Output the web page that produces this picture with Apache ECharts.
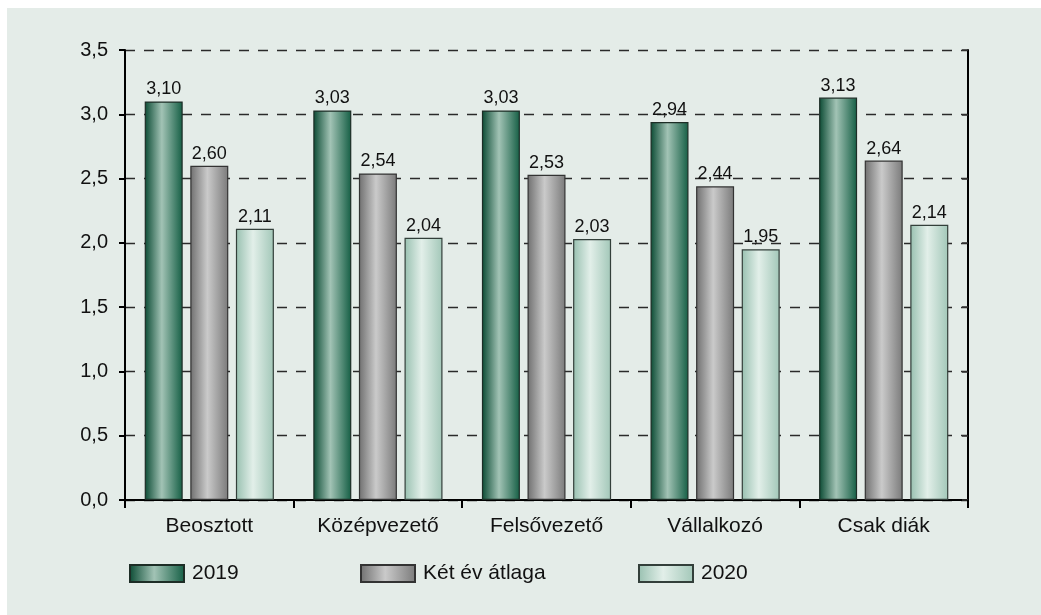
<!DOCTYPE html>
<html>
<head>
<meta charset="utf-8">
<script src="https://cdn.jsdelivr.net/npm/echarts@6/dist/echarts.min.js"></script>
<style>
  html, body { margin: 0; padding: 0; background: #fff; }
  .wrap { position: relative; width: 1041px; height: 615px; }
  .bg { position: absolute; left: 7px; top: 8px; right: 0; bottom: 0; background: #e4ece8; }
  #chart { position: absolute; left: 0; top: 0; width: 1041px; height: 615px; }
</style>
</head>
<body>
<div class="wrap">
  <div class="bg"></div>
  <div id="chart"></div>
</div>
<script>
const categories = ["Beosztott", "Középvezető", "Felsővezető", "Vállalkozó", "Csak diák"];
const seriesNames = ["2019", "Két év átlaga", "2020"];
const values2019 = [3.10, 3.03, 3.03, 2.94, 3.13];
const valuesAvg = [2.60, 2.54, 2.53, 2.44, 2.64];
const values2020 = [2.11, 2.04, 2.03, 1.95, 2.14];

const font = "Liberation Sans, Arial, sans-serif";

function grad(edgeL, mid, edgeR) {
  return new echarts.graphic.LinearGradient(0, 0, 1, 0, [
    { offset: 0, color: edgeL },
    { offset: 0.45, color: mid },
    { offset: 1, color: edgeR }
  ]);
}

const fills = [
  grad("#0a4a33", "#a2c3b5", "#145e44"),
  grad("#6f6f6f", "#cacaca", "#7a7a7a"),
  grad("#98c0b0", "#e2efe9", "#a2c7b8")
];
const borders = ["#1d2d26", "#333333", "#333f3a"];

const comma = v => v.toFixed(2).replace(".", ",");

function barSeries(i, data) {
  return {
    name: seriesNames[i],
    type: "bar",
    data: data,
    barWidth: 38,
    barGap: "20%",
    itemStyle: {
      color: fills[i],
      borderColor: borders[i],
      borderWidth: 1.2
    },
    label: {
      show: true,
      position: "top",
      distance: 3,
      fontFamily: font,
      fontSize: 18,
      color: "#111",
      formatter: p => comma(p.value)
    }
  };
}

const legendBase = {
  top: 558,
  icon: "rect",
  itemWidth: 54,
  itemHeight: 17,
  textStyle: { fontFamily: font, fontSize: 21, color: "#111", padding: [0, 0, 0, 3] }
};

const chart = echarts.init(document.getElementById("chart"));
chart.setOption({
  backgroundColor: "transparent",
  animation: false,
  grid: { left: 125, right: 73, top: 50, bottom: 115 },
  legend: [
    Object.assign({ left: 124, data: [seriesNames[0]] }, legendBase),
    Object.assign({ left: 355, data: [seriesNames[1]] }, legendBase),
    Object.assign({ left: 633, data: [seriesNames[2]] }, legendBase)
  ],
  xAxis: {
    type: "category",
    data: categories,
    axisLine: { lineStyle: { color: "#000", width: 2 } },
    axisTick: { show: true, length: 8, lineStyle: { color: "#000", width: 2 } },
    axisLabel: { margin: 16, fontFamily: font, fontSize: 21, color: "#111" }
  },
  yAxis: [
    {
      type: "value",
      min: 0,
      max: 3.5,
      interval: 0.5,
      axisLine: { show: true, lineStyle: { color: "#000", width: 2 } },
      axisTick: { show: true, length: 6, lineStyle: { color: "#000", width: 2 } },
      axisLabel: {
        margin: 17,
        fontFamily: font,
        fontSize: 20,
        color: "#111",
        formatter: v => v.toFixed(1).replace(".", ",")
      },
      splitLine: {
        show: true,
        lineStyle: { color: "#2a2a2a", width: 1.4, type: [10, 9] }
      }
    },
    {
      type: "value",
      position: "right",
      min: 0,
      max: 3.5,
      interval: 0.5,
      axisLine: { show: true, lineStyle: { color: "#000", width: 2 } },
      axisTick: { show: true, inside: true, length: 6, lineStyle: { color: "#333", width: 1.5 } },
      axisLabel: { show: false },
      splitLine: { show: false }
    }
  ],
  series: [
    barSeries(0, values2019),
    barSeries(1, valuesAvg),
    barSeries(2, values2020)
  ]
});
</script>
</body>
</html>
